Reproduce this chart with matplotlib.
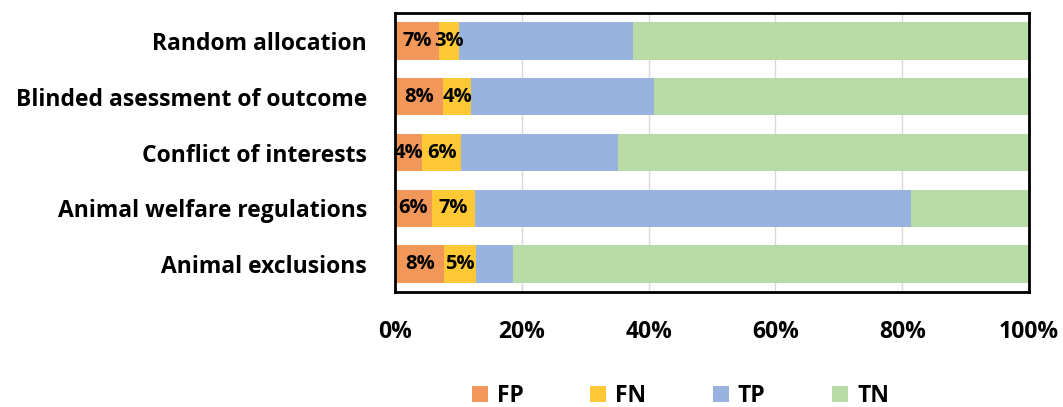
import numpy as np
import matplotlib.pyplot as plt

plt.rcParams['font.family'] = ['Open Sans', 'DejaVu Sans']
plt.rcParams['font.weight'] = 'bold'

categories = ['Random allocation', 'Blinded asessment of outcome', 'Conflict of interests',
              'Animal welfare regulations', 'Animal exclusions']
fp = np.array([7.0, 7.6, 4.3, 5.8, 7.8])
fn = np.array([3.1, 4.4, 6.1, 6.8, 5.0])
tp = np.array([27.4, 28.8, 24.7, 68.8, 5.8])
tn = 100 - fp - fn - tp

series = [('FP', fp, '#F1975A'), ('FN', fn, '#FFC935'),
          ('TP', tp, '#98B3E0'), ('TN', tn, '#B9DBA6')]

fig = plt.figure(figsize=(10.63, 4.07), dpi=100)
ax = fig.add_axes([0.3716, 0.2826, 0.5965, 0.6854])

y = np.arange(len(categories))[::-1]
left = np.zeros(len(categories))
handles = []
for name, vals, color in series:
    bars = ax.barh(y, vals, left=left, height=0.67, color=color, label=name, zorder=2)
    handles.append(bars)
    if name in ('FP', 'FN'):
        for yi, l, v in zip(y, left, vals):
            ax.text(l + v / 2, yi, f'{v:.0f}%', ha='center', va='center',
                    fontsize=14.5, fontweight='bold', color='black', zorder=3)
    left = left + vals

ax.set_xlim(0, 100)
ax.set_ylim(-0.5, len(categories) - 0.5)
ax.set_xticks(np.arange(0, 101, 20))
ax.set_xticklabels([f'{t}%' for t in range(0, 101, 20)], fontsize=16.5, fontweight='bold')
ax.set_yticks(y)
ax.set_yticklabels(categories, fontsize=16.5, fontweight='bold')
ax.tick_params(axis='x', length=0, pad=20)
ax.tick_params(axis='y', length=0, pad=20)
ax.grid(axis='x', color='#D9D9D9', linewidth=1, zorder=0)
for s in ax.spines.values():
    s.set_color('black')
    s.set_linewidth(2)

fig.legend(handles=handles, loc='center', bbox_to_anchor=(0.64, 0.027), ncol=4,
           frameon=False, fontsize=16.5, handlelength=0.7, handleheight=0.7,
           handletextpad=0.4, columnspacing=2.9)

fig.savefig('out.png', dpi=100)
